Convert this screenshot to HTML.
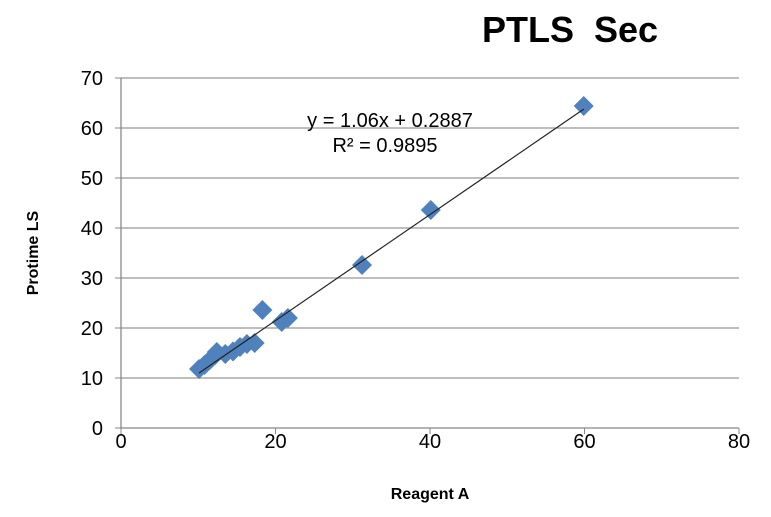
<!DOCTYPE html>
<html><head><meta charset="utf-8"><style>
body{margin:0;background:#fff;font-family:"Liberation Sans",sans-serif}
</style></head><body>
<svg id="chart" width="771" height="512" xmlns="http://www.w3.org/2000/svg">
<text x="570" y="42" text-anchor="middle" font-size="36" font-weight="bold" fill="#000">PTLS&#160;&#160;Sec</text>
<g id="grid"></g><g id="axes"></g><g id="marks"></g>
<text x="390" y="127" text-anchor="middle" font-size="20">y = 1.06x + 0.2887</text>
<text x="385" y="152" text-anchor="middle" font-size="20">R² = 0.9895</text>
<text x="430" y="499" text-anchor="middle" font-size="16" font-weight="bold">Reagent A</text>
<text transform="translate(38,253) rotate(-90)" text-anchor="middle" font-size="16" font-weight="bold">Protime LS</text>
</svg>
<script>
const xVals=[10.1,10.8,11.5,12.2,12.4,13.5,14.5,15.4,16.3,17.3,18.3,20.8,21.6,31.2,40.1,59.9];
const yVals=[11.8,12.6,13.6,14.6,15.2,14.8,15.3,16.2,16.8,17.0,23.6,21.2,22.0,32.6,43.6,64.4];
const xTicks=[0,20,40,60,80];
const yTicks=[0,10,20,30,40,50,60,70];
const slope=1.06, intercept=0.2887;
const sx=v=>121+v*(739-121)/80, sy=v=>428-v*5;
const ns="http://www.w3.org/2000/svg";
function mk(p,t,a){const e=document.createElementNS(ns,t);for(const k in a)e.setAttribute(k,a[k]);document.getElementById(p).appendChild(e);return e;}
yTicks.forEach(t=>{
 if(t>0){const l=mk('grid','line',{x1:121,x2:739,y1:sy(t),y2:sy(t),stroke:'#969696','stroke-width':1.3});
 
 }
 const tx=mk('axes','text',{x:103,y:sy(t)+7,'text-anchor':'end','font-size':20});tx.textContent=t;
 
 
 const tk=mk('axes','line',{x1:115,x2:121,y1:sy(t),y2:sy(t),stroke:'#888'});
 
 
});
xTicks.forEach(t=>{
 const tx=mk('axes','text',{x:sx(t),y:448,'text-anchor':'middle','font-size':20});tx.textContent=t;
 
 
 const tk=mk('axes','line',{x1:sx(t),x2:sx(t),y1:428,y2:434,stroke:'#888'});
 
 
});
const ya=mk('axes','line',{x1:121,x2:121,y1:78,y2:428,stroke:'#888','stroke-width':1.3});


const xa=mk('axes','line',{x1:121,x2:739,y1:428,y2:428,stroke:'#888','stroke-width':1.3});


xVals.forEach((x,i)=>{
 const cx=sx(x),cy=sy(yVals[i]),r=10;
 const p=mk('marks','polygon',{points:`${cx},${cy-r} ${cx+r},${cy} ${cx},${cy+r} ${cx-r},${cy}`,fill:'#4f81bd'});
 
 
});
const x0=Math.min(...xVals),x1=Math.max(...xVals);
const tl=mk('marks','line',{x1:sx(x0),y1:sy(slope*x0+intercept),x2:sx(x1),y2:sy(slope*x1+intercept),stroke:'#222','stroke-width':1.2});


</script>
</body></html>
